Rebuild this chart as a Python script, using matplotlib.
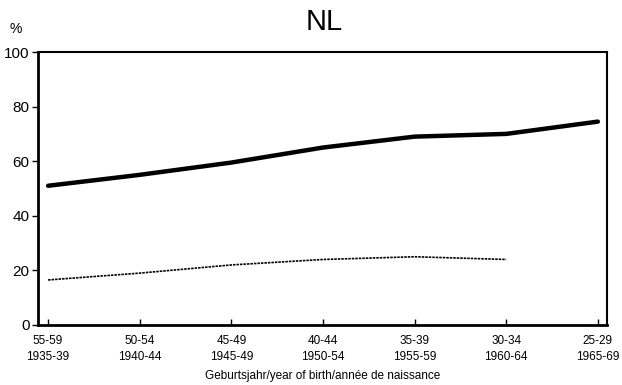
import matplotlib
matplotlib.use("Agg")
import matplotlib.pyplot as plt

plt.rcParams['font.family'] = ['Liberation Sans', 'DejaVu Sans']

age_groups = ["55-59", "50-54", "45-49", "40-44", "35-39", "30-34", "25-29"]
birth_years = ["1935-39", "1940-44", "1945-49", "1950-54", "1955-59", "1960-64", "1965-69"]
series_thick = [51, 55, 59.5, 65, 69, 70, 74.5]
series_thin = [16.5, 19, 22, 24, 25, 24]

fig = plt.figure(figsize=(6.22, 3.85), dpi=100)
ax = fig.add_axes([38 / 622, 60 / 385, 569 / 622, 273 / 385])

x = list(range(len(age_groups)))
ax.plot(x, series_thick, color="black", lw=3.2, solid_capstyle="round")
ax.plot(x[:len(series_thin)], series_thin, color="black", lw=1.2, ls=(0, (1.5, 0.6)))

ax.set_xlim(-0.11, 6.1)
ax.set_ylim(0, 100)
ax.set_yticks([0, 20, 40, 60, 80, 100])
ax.tick_params(axis="y", direction="out", length=4, width=1, labelsize=11, pad=2)
ax.set_xticks(x)
ax.set_xticklabels([f"{a}\n{b}" for a, b in zip(age_groups, birth_years)],
                   fontsize=8.5, linespacing=1.45)
ax.tick_params(axis="x", direction="in", length=4, width=1, pad=7)

for side in ["left", "bottom"]:
    ax.spines[side].set_linewidth(2)
for side in ["top", "right"]:
    ax.spines[side].set_linewidth(1.5)

ax.set_xlabel("Geburtsjahr/year of birth/année de naissance", fontsize=8.5, labelpad=5)
fig.text(324 / 622, 1 - 22 / 385, "NL", fontsize=21, ha="center", va="center")
fig.text(16 / 622, 1 - 29 / 385, "%", fontsize=10, ha="center", va="center")

fig.savefig("out.png", dpi=100)
